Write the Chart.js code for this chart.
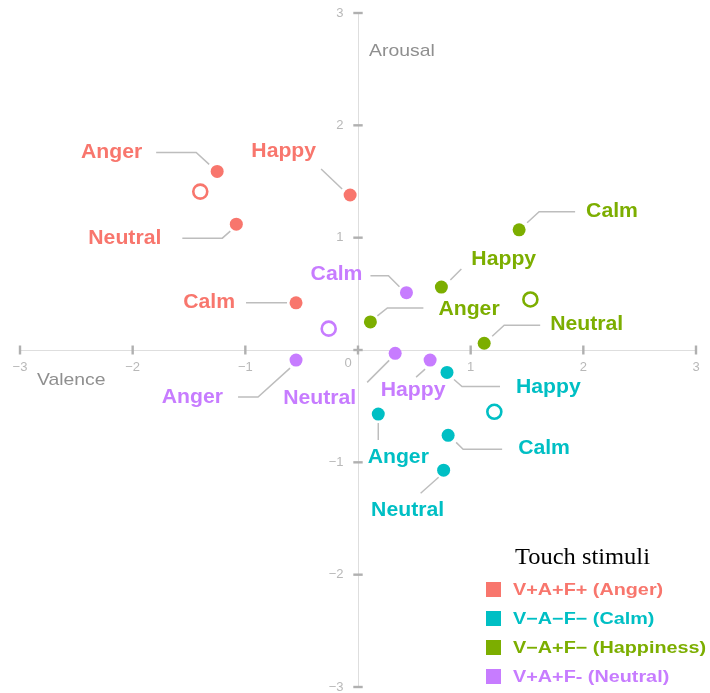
<!DOCTYPE html>
<html>
<head>
<meta charset="utf-8">
<script src="https://cdn.jsdelivr.net/npm/chart.js@4.4.1/dist/chart.umd.min.js"></script>
<style>
  html, body { margin: 0; padding: 0; background: #fff; }
</style>
</head>
<body>
<canvas id="affectChart" width="710" height="693"></canvas>
<script>
// Emotion ratings for each touch stimulus: valence (x) and arousal (y)
const emotions = ['Anger', 'Happy', 'Calm', 'Neutral'];
const stimuli = ['V+A+F+ (Anger)', 'V\u2212A\u2212F\u2212 (Calm)', 'V\u2212A+F\u2212 (Happiness)', 'V+A+F- (Neutral)'];

const angerValence = [-1.25, -0.07, -0.55, -1.08];
const angerArousal = [1.59, 1.38, 0.42, 1.12];
const calmValence = [0.18, 0.79, 0.80, 0.76];
const calmArousal = [-0.57, -0.20, -0.76, -1.07];
const happinessValence = [0.11, 0.74, 1.43, 1.12];
const happinessArousal = [0.25, 0.56, 1.07, 0.06];
const neutralValence = [-0.55, 0.64, 0.43, 0.33];
const neutralArousal = [-0.09, -0.09, 0.51, -0.03];

// stimulus means (open circles)
const meanValence = [-1.40, 1.21, 1.53, -0.26];
const meanArousal = [1.41, -0.55, 0.45, 0.19];

const axisTicks = [-3, -2, -1, 0, 1, 2, 3];

const colors = ['#F8766D', '#00BFC4', '#7CAE00', '#C77CFF'];
const seriesValence = [angerValence, calmValence, happinessValence, neutralValence];
const seriesArousal = [angerArousal, calmArousal, happinessArousal, neutralArousal];

// label placement in pixels relative to each point, order: Anger, Happy, Calm, Neutral
const callouts = [
    [
        { dx: -75, dy: -19, align: 'right', path: [[-61, -19], [-21, -19], [-8, -7]] },
        { dx: -34, dy: -43, align: 'right', path: [[-29, -26], [-8, -6]] },
        { dx: -61, dy: 0, align: 'right', path: [[-50, 0], [-9, 0]] },
        { dx: -75, dy: 14, align: 'right', path: [[-54, 14], [-14, 14], [-6, 7]] }
    ],
    [
        { dx: 20, dy: 43, align: 'center', path: [[0, 9], [0, 26]] },
        { dx: 69, dy: 15, align: 'left', path: [[7, 7], [15, 14], [53, 14]] },
        { dx: 70, dy: 13, align: 'left', path: [[8, 7], [15, 14], [54, 14]] },
        { dx: -36, dy: 40, align: 'center', path: [[-23, 23], [-5, 7]] }
    ],
    [
        { dx: 68, dy: -12, align: 'left', path: [[7, -6], [17, -14], [53, -14]] },
        { dx: 30, dy: -28, align: 'left', path: [[9, -7], [20, -18]] },
        { dx: 67, dy: -18, align: 'left', path: [[8, -7], [20, -18], [56, -18]] },
        { dx: 66, dy: -19, align: 'left', path: [[8, -7], [20, -18], [56, -18]] }
    ],
    [
        { dx: -73, dy: 37, align: 'right', path: [[-58, 37], [-38, 37], [-6, 8]] },
        { dx: -17, dy: 30, align: 'center', path: [[-14, 17], [-5, 9]] },
        { dx: -44, dy: -18, align: 'right', path: [[-36, -17], [-18, -17], [-7, -6]] },
        { dx: -39, dy: 45, align: 'right', path: [[-28, 29], [-6, 7]] }
    ]
];

const sans = "'Liberation Sans', Arial, sans-serif";
const tickColor = '#b8b8b8';

function tickText(v) {
    if (v === 0) return '';
    return v < 0 ? '\u2212' + Math.abs(v) : String(v);
}

// text with a slight horizontal widening
function wideText(ctx, text, x, y, align, sx) {
    ctx.save();
    ctx.translate(x, y);
    ctx.scale(sx, 1);
    ctx.textAlign = align;
    ctx.fillText(text, 0, 0);
    ctx.restore();
}

const datasets = [];
stimuli.forEach((name, i) => {
    datasets.push({
        label: name,
        data: emotions.map((e, k) => ({ x: seriesValence[i][k], y: seriesArousal[i][k] })),
        backgroundColor: colors[i],
        borderWidth: 0,
        pointRadius: 6.5
    });
});
stimuli.forEach((name, i) => {
    datasets.push({
        label: name + ' mean',
        data: [{ x: meanValence[i], y: meanArousal[i] }],
        backgroundColor: '#ffffff',
        borderColor: colors[i],
        borderWidth: 2.6,
        pointRadius: 7
    });
});

// crossing tick marks, y labels, origin label and axis titles
const axisDecor = {
    id: 'axisDecor',
    afterDraw(chart) {
        const ctx = chart.ctx;
        const xs = chart.scales.x, ys = chart.scales.y;
        const x0 = xs.getPixelForValue(0), y0 = ys.getPixelForValue(0);
        ctx.save();
        ctx.strokeStyle = '#b0b0b0';
        ctx.lineWidth = 2.4;
        axisTicks.forEach(v => {
            const px = xs.getPixelForValue(v);
            ctx.beginPath();
            ctx.moveTo(px, y0 - 4.5);
            ctx.lineTo(px, y0 + 4.5);
            ctx.stroke();
            const py = ys.getPixelForValue(v);
            ctx.beginPath();
            ctx.moveTo(x0 - 4.7, py);
            ctx.lineTo(x0 + 4.7, py);
            ctx.stroke();
        });
        ctx.fillStyle = tickColor;
        ctx.font = '13px ' + sans;
        ctx.textBaseline = 'middle';
        ctx.textAlign = 'right';
        ys.ticks.forEach(t => {
            const label = tickText(t.value);
            if (label) ctx.fillText(label, x0 - 14.5, ys.getPixelForValue(t.value));
        });
        ctx.textAlign = 'center';
        ctx.fillText('0', x0 - 10, y0 + 13);

        ctx.fillStyle = '#8f8f8f';
        ctx.font = '17px ' + sans;
        wideText(ctx, 'Arousal', x0 + 11, ys.getPixelForValue(2.66), 'left', 1.14);
        wideText(ctx, 'Valence', xs.getPixelForValue(-2.85), y0 + 30, 'left', 1.14);
        ctx.restore();
    }
};

// leader lines and emotion names next to each rating
const calloutLabels = {
    id: 'calloutLabels',
    afterDatasetsDraw(chart) {
        const ctx = chart.ctx;
        ctx.save();
        ctx.font = 'bold 20px ' + sans;
        ctx.textBaseline = 'middle';
        stimuli.forEach((name, i) => {
            const meta = chart.getDatasetMeta(i);
            meta.data.forEach((pt, k) => {
                const c = callouts[i][k];
                ctx.strokeStyle = '#bdbdbd';
                ctx.lineWidth = 1.5;
                ctx.beginPath();
                c.path.forEach(([dx, dy], j) => {
                    if (j === 0) ctx.moveTo(pt.x + dx, pt.y + dy);
                    else ctx.lineTo(pt.x + dx, pt.y + dy);
                });
                ctx.stroke();
                ctx.fillStyle = colors[i];
                wideText(ctx, emotions[k], pt.x + c.dx, pt.y + c.dy, c.align, 1.06);
            });
        });
        ctx.restore();
    }
};

// legend box in the lower right corner
const stimulusLegend = {
    id: 'stimulusLegend',
    afterDraw(chart) {
        const ctx = chart.ctx;
        ctx.save();
        ctx.fillStyle = '#000';
        ctx.font = "24px 'Liberation Serif', 'Times New Roman', serif";
        ctx.textBaseline = 'alphabetic';
        wideText(ctx, 'Touch stimuli', 515, 564, 'left', 1.02);
        ctx.font = 'bold 16.5px ' + sans;
        ctx.textBaseline = 'middle';
        stimuli.forEach((name, i) => {
            const cy = 589.5 + i * 29;
            ctx.fillStyle = colors[i];
            ctx.fillRect(486, cy - 7.5, 15, 15);
            wideText(ctx, name, 513, cy + 1, 'left', 1.2);
        });
        ctx.restore();
    }
};

// the crossing axes should not take any room from the plot area
function flatAxis(scale) {
    if (scale.isHorizontal()) scale.height = 0;
    else scale.width = 0;
    scale.paddingTop = 0;
    scale.paddingBottom = 0;
    scale.paddingLeft = 0;
    scale.paddingRight = 0;
}

new Chart(document.getElementById('affectChart').getContext('2d'), {
    type: 'scatter',
    data: { datasets: datasets },
    options: {
        responsive: false,
        animation: false,
        layout: { autoPadding: false, padding: { left: 20, right: 14, top: 13, bottom: 6 } },
        plugins: {
            legend: { display: false },
            tooltip: { enabled: false }
        },
        scales: {
            x: {
                type: 'linear',
                min: -3,
                max: 3,
                position: { y: 0 },
                afterFit: flatAxis,
                grid: { drawOnChartArea: false, drawTicks: false },
                border: { color: '#dedede', width: 1 },
                ticks: {
                    stepSize: 1,
                    autoSkip: false,
                    maxRotation: 0,
                    padding: 10,
                    color: tickColor,
                    font: { family: sans, size: 13 },
                    callback: v => tickText(v)
                }
            },
            y: {
                type: 'linear',
                min: -3,
                max: 3,
                position: { x: 0 },
                afterFit: flatAxis,
                grid: { drawOnChartArea: false, drawTicks: false },
                border: { color: '#dedede', width: 1 },
                ticks: {
                    stepSize: 1,
                    autoSkip: false,
                    color: tickColor,
                    font: { family: sans, size: 13 },
                    // labels are drawn beside the axis by axisDecor
                    callback: v => ''
                }
            }
        }
    },
    plugins: [axisDecor, calloutLabels, stimulusLegend]
});
</script>
</body>
</html>
